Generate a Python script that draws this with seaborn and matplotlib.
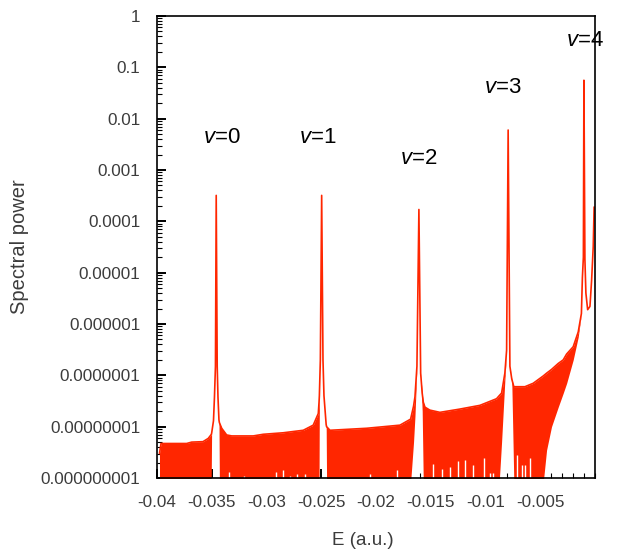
import numpy as np
import matplotlib
matplotlib.use("Agg")
import matplotlib.pyplot as plt
import seaborn as sns
from matplotlib.ticker import FixedLocator, FixedFormatter, MultipleLocator, LogLocator, NullFormatter

# spectrum: energy (a.u.), top of the trace, bottom of the trace
FLOOR = 8e-10
energy = [-0.03977, -0.03963, -0.03729, -0.03683, -0.03580, -0.03532, -0.03505,
          -0.03501, -0.03484, -0.03475, -0.03466, -0.03459, -0.03450, -0.03443, -0.03434,
          -0.03430, -0.03409, -0.03364, -0.03318, -0.03121, -0.03030, -0.02847, -0.02664,
          -0.02573, -0.02527, -0.02520, -0.02517, -0.02508, -0.02496, -0.02484, -0.02475,
          -0.02455, -0.02451, -0.02420, -0.02085, -0.01781, -0.01684, -0.01657, -0.01644,
          -0.01626, -0.01608, -0.01592, -0.01578, -0.01568, -0.01553, -0.01508, -0.01416,
          -0.01234, -0.01051, -0.00899, -0.00875, -0.00853, -0.00823, -0.00807, -0.00793,
          -0.00777, -0.00760, -0.00741, -0.00640, -0.00564, -0.00473, -0.00442, -0.00397,
          -0.00336, -0.00290, -0.00259, -0.00199, -0.00153, -0.00124, -0.00115, -0.00106,
          -0.00101, -0.00092, -0.00083, -0.00067, -0.00046, -0.00031, -0.00016, -0.00008]
power_top = [3.0e-9, 4.7e-9, 4.7e-9, 5.0e-9, 5.1e-9, 5.9e-9, 7.0e-9,
             7.4e-9, 1.3e-8, 3.8e-8, 1.5e-7, 3.2e-4, 1.5e-7, 3.8e-8, 1.35e-8,
             1.2e-8, 9.3e-9, 6.9e-9, 6.6e-9, 6.6e-9, 7.1e-9, 7.6e-9, 8.5e-9,
             1.07e-8, 1.8e-8, 3.0e-8, 4.0e-8, 2.0e-7, 3.2e-4, 2.0e-7, 4.0e-8,
             1.1e-8, 1.0e-8, 8.5e-9, 9.3e-9, 1.07e-8, 1.4e-8, 2.5e-8, 3.8e-8,
             1.5e-7, 1.7e-4, 1.1e-7, 4.5e-8, 3.0e-8, 2.4e-8, 2.1e-8, 1.9e-8,
             2.2e-8, 2.6e-8, 3.5e-8, 4.0e-8, 4.5e-8, 1.1e-7, 3.1e-7, 6.0e-3,
             1.5e-7, 8.5e-8, 6.0e-8, 6.0e-8, 7.0e-8, 9.7e-8, 1.1e-7, 1.3e-7,
             1.7e-7, 2.0e-7, 2.6e-7, 3.6e-7, 7.0e-7, 1.6e-6, 8.0e-6, 2.0e-5,
             5.6e-2, 1.8e-5, 4.0e-6, 1.9e-6, 2.2e-6, 7.0e-6, 3.2e-5, 1.9e-4]
power_bottom = [FLOOR, FLOOR, FLOOR, FLOOR, FLOOR, FLOOR, FLOOR,
                7.4e-9, 1.3e-8, 3.8e-8, 1.5e-7, 3.2e-4, 1.5e-7, 3.8e-8, 1.35e-8,
                FLOOR, FLOOR, FLOOR, FLOOR, FLOOR, FLOOR, FLOOR, FLOOR,
                FLOOR, FLOOR, FLOOR, 4.0e-8, 2.0e-7, 3.2e-4, 2.0e-7, 4.0e-8,
                1.1e-8, FLOOR, FLOOR, FLOOR, FLOOR, FLOOR, 5.0e-9, 1.6e-8,
                1.5e-7, 1.7e-4, 1.1e-7, 2.0e-8, FLOOR, FLOOR, FLOOR, FLOOR,
                FLOOR, FLOOR, FLOOR, FLOOR, 5.0e-9, 8.0e-8, 3.1e-7, 6.0e-3,
                1.5e-7, 8.0e-8, FLOOR, FLOOR, FLOOR, FLOOR, 3.5e-9, 1.0e-8,
                2.4e-8, 4.5e-8, 7.0e-8, 2.0e-7, 5.6e-7, 1.6e-6, 8.0e-6, 2.0e-5,
                5.6e-2, 1.8e-5, 4.0e-6, 1.9e-6, 2.2e-6, 7.0e-6, 3.2e-5, 1.9e-4]

# thin white gaps where the oscillation does not reach the bottom
gap_energy = [-0.0334, -0.03203, -0.02914, -0.02852, -0.02786, -0.02725, -0.02649,
              -0.02055, -0.01812, -0.01477, -0.01395, -0.01325, -0.01255, -0.01188,
              -0.01118, -0.01012, -0.00960, -0.00930, -0.00716, -0.00665, -0.00640, -0.00595]
gap_top = [1.3e-9, 1.1e-9, 1.3e-9, 1.4e-9, 1.1e-9, 1.2e-9, 1.2e-9,
           1.2e-9, 1.45e-9, 1.9e-9, 1.5e-9, 1.66e-9, 2.1e-9, 2.2e-9,
           1.8e-9, 2.4e-9, 1.25e-9, 1.25e-9, 2.8e-9, 1.8e-9, 1.8e-9, 2.4e-9]

# vibrational labels
peak_labels = ["0", "1", "2", "3", "4"]
label_energy = [-0.0341, -0.0253, -0.0161, -0.0084, -0.0009]
label_power = [4.3e-3, 4.3e-3, 1.7e-3, 4.0e-2, 0.34]

x_ticks = [-0.04, -0.035, -0.03, -0.025, -0.02, -0.015, -0.01, -0.005]
x_tick_labels = ["-0.04", "-0.035", "-0.03", "-0.025", "-0.02", "-0.015", "-0.01", "-0.005"]
y_ticks = [1e-9, 1e-8, 1e-7, 1e-6, 1e-5, 1e-4, 1e-3, 1e-2, 1e-1, 1]
y_tick_labels = ["0.000000001", "0.00000001", "0.0000001", "0.000001", "0.00001",
                 "0.0001", "0.001", "0.01", "0.1", "1"]

sns.set_style("ticks")
plt.rcParams['font.family'] = ['Liberation Sans', 'DejaVu Sans']
plt.rcParams['mathtext.fontset'] = 'custom'
plt.rcParams['mathtext.rm'] = 'Liberation Sans'
plt.rcParams['mathtext.it'] = 'Liberation Sans:italic'

red = "#ff2600"
fig = plt.figure(figsize=(6.19, 5.54), dpi=100)
ax = fig.add_axes([0.2536, 0.1372, 0.7076, 0.8339])

ax.fill_between(energy, power_bottom, power_top, color=red, linewidth=0, zorder=1)
sns.lineplot(x=energy, y=power_top, ax=ax, color=red, linewidth=1.2, sort=False,
             estimator=None, zorder=2)
ax.vlines(gap_energy, FLOOR, gap_top, colors="white", linewidth=1.0, zorder=3)

for lab, ex, py in zip(peak_labels, label_energy, label_power):
    ax.text(ex, py, "$v$=" + lab, ha="center", va="center", fontsize=16, color="black")

ax.set_yscale("log")
ax.set_xlim(-0.04, 0)
ax.set_ylim(1e-9, 1)

ax.xaxis.set_major_locator(FixedLocator(x_ticks))
ax.xaxis.set_major_formatter(FixedFormatter(x_tick_labels))
ax.xaxis.set_minor_locator(MultipleLocator(0.001))
ax.yaxis.set_major_locator(FixedLocator(y_ticks))
ax.yaxis.set_major_formatter(FixedFormatter(y_tick_labels))
ax.yaxis.set_minor_locator(LogLocator(base=10, subs=np.arange(2, 10), numticks=20))
ax.yaxis.set_minor_formatter(NullFormatter())

ax.tick_params(which="both", direction="in", top=False, right=False, color="black")
ax.tick_params(which="major", length=6.5, width=1.4, labelsize=12.3, labelcolor="#3c3c3c", pad=12)
ax.tick_params(which="minor", length=3.5, width=0.8)
ax.set_axisbelow(True)
for s in ax.spines.values():
    s.set_linewidth(1.2)
    s.set_color("black")
    s.set_zorder(4)

ax.set_xlabel("E (a.u.)", fontsize=13.5, color="#3c3c3c", labelpad=16, x=0.47)
ax.set_ylabel("Spectral power", fontsize=14.5, color="#3c3c3c", labelpad=8)

fig.savefig("out.png", dpi=100)
